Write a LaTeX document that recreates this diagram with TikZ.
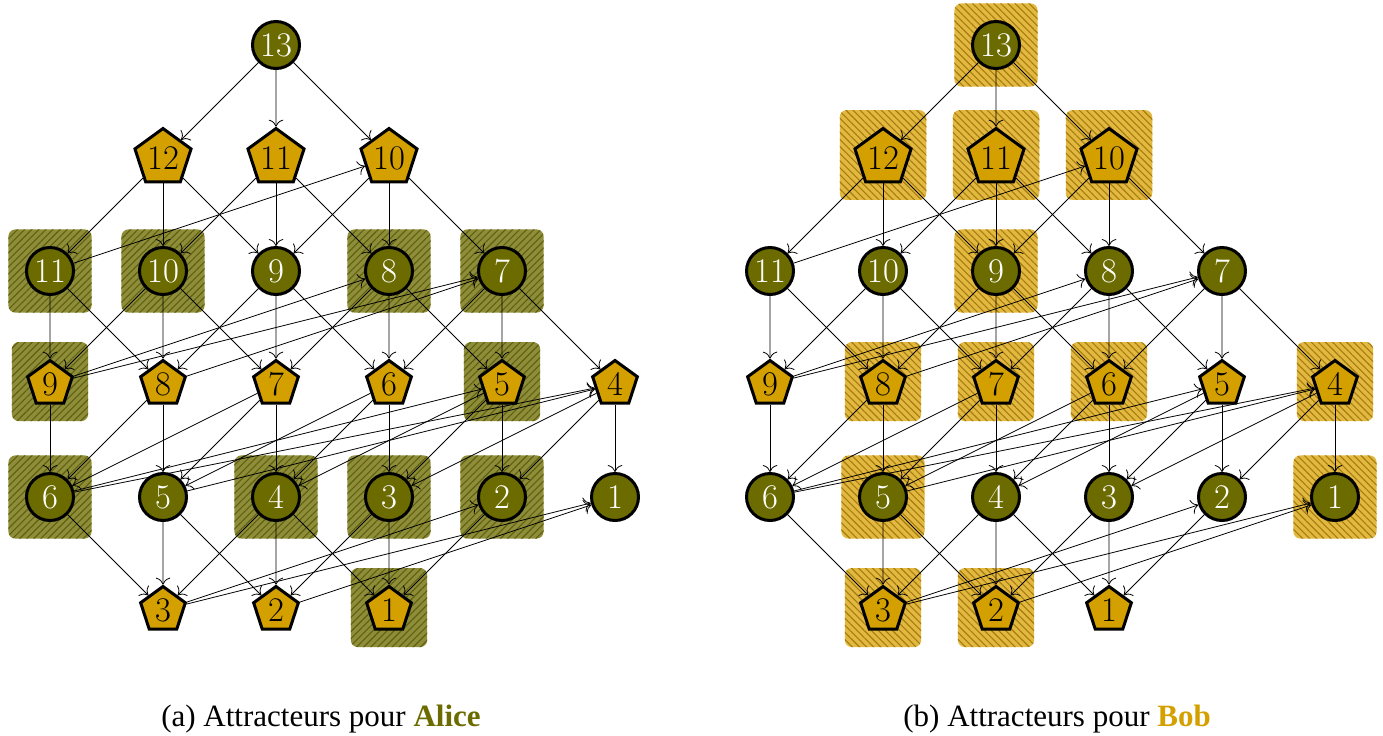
\documentclass[tikz,border=0pt]{standalone}
\usepackage{fontspec}
\newfontfamily\legende{Liberation Serif}
\usetikzlibrary{shapes.geometric,patterns.meta,fit,backgrounds,arrows.meta}
\definecolor{alice}{RGB}{107,107,0}
\definecolor{bob}{RGB}{212,160,0}
\definecolor{aliceclair}{RGB}{142,142,58}
\definecolor{alicetrait}{RGB}{95,95,15}
\definecolor{bobclair}{RGB}{226,184,64}
\definecolor{bobtrait}{RGB}{165,125,15}
\tikzset{
	cercle/.style={circle, draw, line width=1.5pt, fill=alice, text=white, minimum size=23.5pt, inner sep=0.5pt, font=\LARGE},
	penta/.style={regular polygon, regular polygon sides=5, draw, line width=1.5pt, fill=bob, minimum size=23.5pt, inner sep=0.5pt, font=\LARGE},
	coup/.style={-{To[scale=1.4]}},
	zoneA/.style={rounded corners=3.5pt, inner sep=8.3pt, fill=aliceclair, postaction={pattern={Lines[angle=45, distance=2.5pt, line width=0.55pt]}, pattern color=alicetrait}},
	zoneB/.style={rounded corners=3.5pt, inner sep=8.3pt, fill=bobclair, postaction={pattern={Lines[angle=-45, distance=2.5pt, line width=0.55pt]}, pattern color=bobtrait}},
	legende/.style={anchor=base, font=\legende\fontsize{15.5}{18}\selectfont}
}
% le jeu, prefixe #1 pour les noms
\newcommand{\jeu}[1]{%
	\node[cercle] (#1c13) at (2, 0) {13};
	
	\node[penta] (#1p12) at (1, -1) {12};
	\node[penta] (#1p11) at (2, -1) {11};
	\node[penta] (#1p10) at (3, -1) {10};
	
	\node[cercle] (#1c11) at (0, -2) {11};
	\node[cercle] (#1c10) at (1, -2) {10};
	\node[cercle] (#1c9) at (2, -2) {9};
	\node[cercle] (#1c8) at (3, -2) {8};
	\node[cercle] (#1c7) at (4, -2) {7};
	
	\node[penta] (#1p9) at (0, -3) {9};
	\node[penta] (#1p8) at (1, -3) {8};
	\node[penta] (#1p7) at (2, -3) {7};
	\node[penta] (#1p6) at (3, -3) {6};
	\node[penta] (#1p5) at (4, -3) {5};
	\node[penta] (#1p4) at (5, -3) {4};
	
	\node[cercle] (#1c6) at (0, -4) {6};
	\node[cercle] (#1c5) at (1, -4) {5};
	\node[cercle] (#1c4) at (2, -4) {4};
	\node[cercle] (#1c3) at (3, -4) {3};
	\node[cercle] (#1c2) at (4, -4) {2};
	\node[cercle] (#1c1) at (5, -4) {1};
	
	\node[penta] (#1p3) at (1, -5) {3};
	\node[penta] (#1p2) at (2, -5) {2};
	\node[penta] (#1p1) at (3, -5) {1};
	
	% coups
	\draw[coup] (#1c13) edge (#1p12) edge (#1p11) edge (#1p10);
	\draw[coup] (#1p12) edge (#1c11) edge (#1c10) edge (#1c9);
	\draw[coup] (#1p11) edge (#1c10) edge (#1c9) edge (#1c8);
	\draw[coup] (#1p10) edge (#1c9) edge (#1c8) edge (#1c7);
	\draw[coup] (#1c11) edge (#1p10) edge (#1p9) edge (#1p8);
	\draw[coup] (#1c10) edge (#1p9) edge (#1p8) edge (#1p7);
	\draw[coup] (#1c9) edge (#1p8) edge (#1p7) edge (#1p6);
	\draw[coup] (#1c8) edge (#1p7) edge (#1p6) edge (#1p5);
	\draw[coup] (#1c7) edge (#1p6) edge (#1p5) edge (#1p4);
	\draw[coup] (#1p9) edge (#1c8) edge (#1c7) edge (#1c6);
	\draw[coup] (#1p8) edge (#1c7) edge (#1c6) edge (#1c5);
	\draw[coup] (#1p7) edge (#1c6) edge (#1c5) edge (#1c4);
	\draw[coup] (#1p6) edge (#1c5) edge (#1c4) edge (#1c3);
	\draw[coup] (#1p5) edge (#1c4) edge (#1c3) edge (#1c2);
	\draw[coup] (#1p4) edge (#1c3) edge (#1c2) edge (#1c1);
	\draw[coup] (#1c6) edge (#1p5) edge (#1p4) edge (#1p3);
	\draw[coup] (#1c5) edge (#1p4) edge (#1p3) edge (#1p2);
	\draw[coup] (#1c4) edge (#1p3) edge (#1p2) edge (#1p1);
	\draw[coup] (#1c3) edge (#1p2) edge (#1p1);
	\draw[coup] (#1c2) edge (#1p1);
	\draw[coup] (#1p3) edge (#1c2) edge (#1c1);
	\draw[coup] (#1p2) edge (#1c1);
}

\begin{document}
\begin{tikzpicture}[x=56.5pt, y=56.5pt]
	%%%%% CADRE %%%%%
	\useasboundingbox (-0.4425, 0.3982) rectangle (11.7965, -6.1062);
	
	%%%%% ALICE %%%%%
	\jeu{a}
	\begin{scope}[on background layer]
		\node[zoneA, fit=(ac11)] {};
		\node[zoneA, fit=(ac10)] {};
		\node[zoneA, fit=(ac8)] {};
		\node[zoneA, fit=(ac7)] {};
		\node[zoneA, fit=(ap9)] {};
		\node[zoneA, fit=(ap5)] {};
		\node[zoneA, fit=(ac6)] {};
		\node[zoneA, fit=(ac4)] {};
		\node[zoneA, fit=(ac3)] {};
		\node[zoneA, fit=(ac2)] {};
		\node[zoneA, fit=(ap1)] {};
	\end{scope}
	\node[legende] (legA) at (2.398, -6.035) {(a) Attracteurs pour \textbf{\color{alice}Alice}};
	
	%%%%% BOB %%%%%
	\begin{scope}[shift={(6.3717, 0)}]
		\jeu{b}
	\end{scope}
	\begin{scope}[on background layer]
		\node[zoneB, fit=(bc13)] {};
		\node[zoneB, fit=(bp12)] {};
		\node[zoneB, fit=(bp11)] {};
		\node[zoneB, fit=(bp10)] {};
		\node[zoneB, fit=(bc9)] {};
		\node[zoneB, fit=(bp8)] {};
		\node[zoneB, fit=(bp7)] {};
		\node[zoneB, fit=(bp6)] {};
		\node[zoneB, fit=(bp4)] {};
		\node[zoneB, fit=(bc5)] {};
		\node[zoneB, fit=(bc1)] {};
		\node[zoneB, fit=(bp3)] {};
		\node[zoneB, fit=(bp2)] {};
	\end{scope}
	\node[legende] (legB) at (8.912, -6.035) {(b) Attracteurs pour \textbf{\color{bob}Bob}};
	
\end{tikzpicture}
\end{document}
